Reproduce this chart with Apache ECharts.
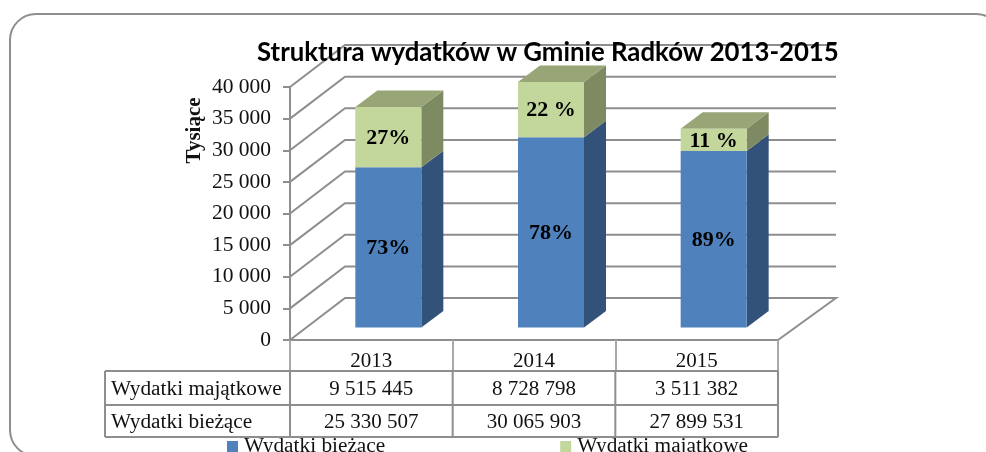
<!DOCTYPE html>
<html>
<head>
<meta charset="utf-8">
<style>html,body{margin:0;padding:0;background:#fff}#c{width:986px;height:452px}</style>
<script src="https://cdn.jsdelivr.net/npm/echarts@6/dist/echarts.min.js"></script>
</head>
<body>
<div id="c"></div>
<script>
var titleText = 'Struktura wydatków w Gminie Radków 2013-2015';
var yAxisName = 'Tysiące';
var categories = ['2013', '2014', '2015'];
var nameCurrent = 'Wydatki bieżące';
var nameAsset = 'Wydatki majątkowe';
var valuesAsset = [9515445, 8728798, 3511382];
var valuesCurrent = [25330507, 30065903, 27899531];
var percentAsset = ['27%', '22 %', '11 %'];
var percentCurrent = ['73%', '78%', '89%'];
var tickValues = [0, 5000, 10000, 15000, 20000, 25000, 30000, 35000, 40000];

var GREY = '#8e8e8e', SERIF = '"Liberation Serif"';
var BAR_W = 66, BAR_DX = 17, BAR_DY = 12.5, SIDE_DX = 22, SIDE_DY = 16.5;
var spaced = function (n) { return String(n).replace(/\B(?=(\d{3})+(?!\d))/g, ' '); };

function barItem(palette, labels, drawTop) {
  return function (params, api) {
    var i = api.value(0);
    var p0 = api.coord([i, api.value(1)]), p1 = api.coord([i, api.value(2)]);
    var x0 = p0[0] + BAR_DX - BAR_W / 2, x1 = x0 + BAR_W;
    var yb = p0[1] - BAR_DY, yt = p1[1] - BAR_DY;
    var kids = [
      { type: 'polygon', shape: { points: [[x1, yt], [x1 + SIDE_DX, yt - SIDE_DY], [x1 + SIDE_DX, yb - SIDE_DY], [x1, yb]] }, style: { fill: palette.side } },
      { type: 'rect', shape: { x: x0, y: yt, width: BAR_W, height: yb - yt }, style: { fill: palette.front } },
      { type: 'text', style: { text: labels[i], x: (x0 + x1) / 2, y: (yt + yb) / 2 + 1, align: 'center', verticalAlign: 'middle', fill: '#000', font: 'bold 22px ' + SERIF } }
    ];
    if (drawTop) kids.splice(1, 0, { type: 'polygon', shape: { points: [[x0, yt], [x0 + SIDE_DX, yt - SIDE_DY], [x1 + SIDE_DX, yt - SIDE_DY], [x1, yt]] }, style: { fill: palette.top } });
    return { type: 'group', children: kids };
  };
}

var option = {
  animation: false,
  backgroundColor: '#fff',
  title: { text: titleText, left: 252, top: 35, textStyle: { fontFamily: 'Lato', fontWeight: 'bold', fontSize: 25.75, color: '#000' } },
  grid: { left: 290, top: 87, width: 488, height: 253, containLabel: false },
  legend: {
    left: 227, top: 436, padding: 0, icon: 'rect', itemWidth: 11, itemHeight: 11, itemGap: 175, selectedMode: false,
    data: [nameCurrent, nameAsset],
    textStyle: { fontFamily: SERIF, fontSize: 21.3, color: '#111', padding: [0, 0, 0, 1] }
  },
  xAxis: {
    type: 'category', data: categories,
    axisLine: { show: true, lineStyle: { color: GREY, width: 2 } },
    axisTick: { show: true, alignWithLabel: false, length: 31, lineStyle: { color: '#a8a8a8', width: 2 } },
    axisLabel: { color: '#111', fontFamily: SERIF, fontSize: 21, margin: 11 }
  },
  yAxis: {
    type: 'value', min: 0, max: 40000, interval: 5000,
    name: yAxisName, nameLocation: 'middle', nameGap: 85, nameRotate: 90,
    nameTextStyle: { fontFamily: SERIF, fontWeight: 'bold', fontSize: 21, color: '#111', padding: [0, 0, 0, 166] },
    axisLine: { show: true, lineStyle: { color: GREY, width: 2 } },
    axisTick: { show: true, length: 7, lineStyle: { color: GREY, width: 2 } },
    splitLine: { show: false },
    axisLabel: { color: '#111', fontFamily: SERIF, fontSize: 21.5, margin: 19, padding: [12, 0, 0, 0], formatter: function (v) { return spaced(v); } }
  },
  graphic: [{
    type: 'rect', z: -1, silent: true,
    shape: { x: 10, y: 14, width: 992, height: 442, r: 26 },
    style: { fill: 'none', stroke: GREY, lineWidth: 2 }
  }],
  series: [
    {
      name: 'walls', type: 'custom', coordinateSystem: 'cartesian2d', z: 1, silent: true,
      data: tickValues.map(function (v) { return [0, v]; }),
      encode: { x: 0, y: 1 },
      renderItem: function (params, api) {
        var y = api.coord([0, api.value(1)])[1];
        var L = params.coordSys.x, R = L + params.coordSys.width;
        var pts = [[L, y], [L + 55, y - 42], [R + 58, y - 42]];
        if (api.value(1) === 0) pts.push([R, y]);
        return { type: 'polyline', shape: { points: pts }, style: { fill: 'none', stroke: GREY, lineWidth: 2 } };
      }
    },
    {
      name: nameCurrent, type: 'custom', coordinateSystem: 'cartesian2d', z: 3, silent: true,
      itemStyle: { color: '#4f81bd' },
      data: categories.map(function (c, i) { return [i, 0, valuesCurrent[i] / 1000]; }),
      encode: { x: 0, y: [1, 2] },
      renderItem: barItem({ front: '#4f81bd', side: '#335279' }, percentCurrent, false)
    },
    {
      name: nameAsset, type: 'custom', coordinateSystem: 'cartesian2d', z: 3, silent: true,
      itemStyle: { color: '#c3d69b' },
      data: categories.map(function (c, i) { return [i, valuesCurrent[i] / 1000, (valuesCurrent[i] + valuesAsset[i]) / 1000]; }),
      encode: { x: 0, y: [1, 2] },
      renderItem: barItem({ front: '#c3d69b', side: '#7e8a62', top: '#98a577' }, percentAsset, true)
    },
    {
      name: 'table', type: 'custom', coordinateSystem: 'cartesian2d', z: 4, silent: true, clip: false,
      data: [[0], [1]],
      encode: { x: 0 },
      renderItem: function (params, api) {
        var r = api.value(0);
        var rows = [{ label: nameAsset, vals: valuesAsset, top: 371, bottom: 405 }, { label: nameCurrent, vals: valuesCurrent, top: 405, bottom: 437 }];
        var row = rows[r], L = params.coordSys.x, W = params.coordSys.width, mid = (row.top + row.bottom) / 2 + 1.5;
        var line = function (x1, y1, x2, y2) { return { type: 'line', shape: { x1: x1, y1: y1, x2: x2, y2: y2 }, style: { stroke: GREY, lineWidth: 2 } }; };
        var kids = [line(105, row.top, L + W, row.top), line(105, row.bottom, L + W, row.bottom)];
        [105, L, L + W / 3, L + 2 * W / 3, L + W].forEach(function (x) { kids.push(line(x, row.top, x, row.bottom)); });
        kids.push({ type: 'text', style: { text: row.label, x: 111, y: mid, align: 'left', verticalAlign: 'middle', fill: '#111', font: '21.3px ' + SERIF } });
        row.vals.forEach(function (v, i) {
          kids.push({ type: 'text', style: { text: spaced(v), x: api.coord([i, 0])[0], y: mid, align: 'center', verticalAlign: 'middle', fill: '#111', font: '21px ' + SERIF } });
        });
        return { type: 'group', children: kids };
      }
    }
  ]
};
var chart = echarts.init(document.getElementById('c'), null, { renderer: 'canvas' });
chart.setOption(option);
</script>
</body>
</html>
